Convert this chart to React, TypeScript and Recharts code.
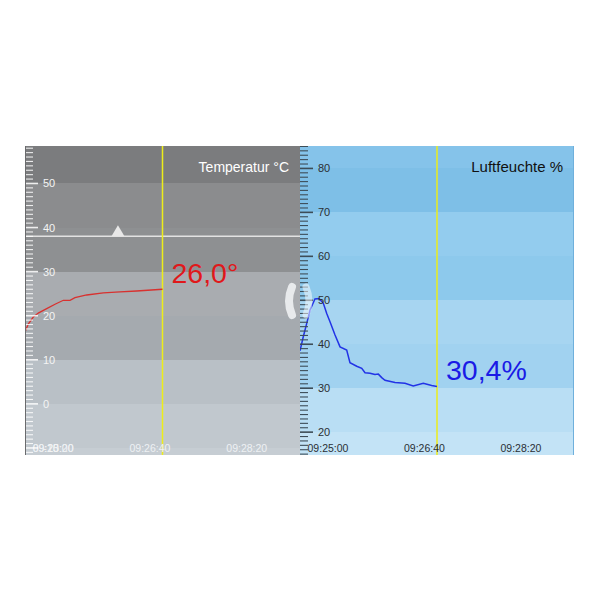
import React from 'react';
import { LineChart, Line, XAxis, YAxis, ReferenceArea, ReferenceLine, ReferenceDot } from 'recharts';

// time in seconds relative to 09:25:00
const tempTimes = [-29, -25.6, -20.4, -15.3, -6.6, 2, 10.6, 17.5, 22.6, 34.7, 51.9, 69.1, 86.3, 113];
const tempValues = [16.3, 18.1, 19.7, 20.6, 21.6, 22.6, 23.5, 23.5, 24.1, 24.7, 25.2, 25.4, 25.6, 26.0];

const humTimes = [-29, -25.6, -22.1, -18.6, -13.5, -9.3, -4.8, -1.3, 2.1, 7.3, 12.5, 19.4, 22.8, 29.8, 35, 38.4, 43.6, 48.7, 52.2, 55.7, 59.1, 69.5, 79.8, 88.4, 98.8, 107.5, 113];
const humValues = [38.5, 41.7, 44.7, 47.8, 50.3, 50.4, 49.3, 47.0, 45.1, 42.1, 39.4, 38.7, 35.8, 35.0, 34.5, 33.5, 33.4, 33.1, 33.2, 32.4, 31.8, 31.3, 31.1, 30.5, 31.1, 30.6, 30.4];

const timeTicks = [0, 100, 200];
const timeLabels = ['09:25:00', '09:26:40', '09:28:20'];
const hiddenLabel = '09:23:20'; // overlaps the first label on the left panel, as in the app
const nowTime = 113;

const tempAlarm = 38;
const tempAlarmMarkTime = 67;

const tempDomain = [-11.6, 58.5];
const humDomain = [14.8, 85.1];
const timeDomain = [-29, 255];

const tempBandStarts = [-20, -10, 0, 10, 20, 30, 40, 50];
const humBandStarts = [10, 20, 30, 40, 50, 60, 70, 80];

// styles
const tempBandColors = ['#c6cdd3', '#c1c8ce', '#b9c0c6', '#a5aaaf', '#a9acb0', '#8e9092', '#8b8c8e', '#7b7c7e'];
const humBandColors = ['#c3e3f6', '#b9def4', '#a1d2f0', '#a7d5f1', '#8dc9ec', '#93ccee', '#7ebfe7', '#85c3ea'];
const FONT = '"Liberation Sans", Arial, Helvetica, sans-serif';

const tempData = tempTimes.map((t, i) => ({ t, v: tempValues[i] }));
const humData = humTimes.map((t, i) => ({ t, v: humValues[i] }));

function range(lo: number, hi: number) {
  const out: number[] = [];
  for (let i = Math.ceil(lo); i <= Math.floor(hi); i++) out.push(i);
  return out;
}

const makeYTick = (tickColor: string, textColor: string) => (props: any) => {
  const { x, y, payload } = props;
  const major = payload.value % 10 === 0;
  return (
    <g>
      <line x1={x} x2={x + (major ? 13 : 8)} y1={y} y2={y} stroke={tickColor} strokeWidth={major ? 1.6 : 1.1} />
      {major && (
        <text x={x + 18} y={y} dy={4} fill={textColor} fontSize={11} fontFamily={FONT}>
          {payload.value}
        </text>
      )}
    </g>
  );
};

const makeXTick = (textColor: string, withHidden: boolean) => (props: any) => {
  const { x, y, payload } = props;
  const idx = timeTicks.indexOf(payload.value);
  return (
    <g>
      {withHidden && idx === 0 && (
        <text x={x} y={y - 3} textAnchor="middle" fill={textColor} fontSize={10.5} fontFamily={FONT}>
          {hiddenLabel}
        </text>
      )}
      <text x={x} y={y - 3} textAnchor="middle" fill={textColor} fontSize={10.5} fontFamily={FONT}>
        {timeLabels[idx]}
      </text>
    </g>
  );
};

const valueLabel = (text: string, color: string) => (props: any) => (
  <text x={props.cx + 9} y={props.cy - 6} fill={color} fontSize={28.5} fontFamily={FONT}>
    {text}
  </text>
);

const alarmMark = (props: any) => {
  const { cx, cy } = props;
  return <polygon points={`${cx - 6.5},${cy} ${cx + 6.5},${cy} ${cx},${cy - 11}`} fill="#e8e8e8" />;
};

export default function App() {
  const lastTemp = tempValues[tempValues.length - 1];
  const lastHum = humValues[humValues.length - 1];
  return (
    <div style={{ position: 'fixed', left: 0, top: 0, width: 600, height: 600, background: '#fff', overflow: 'hidden' }}>
      <div style={{ position: 'absolute', left: 25, top: 146, width: 275, height: 309, background: '#a0a3a6' }}>
        <LineChart width={275} height={309} data={tempData} margin={{ top: 0, right: 0, bottom: 0, left: 0 }}>
          {tempBandStarts.map((s, i) => (
            <ReferenceArea
              key={s}
              y1={s}
              y2={s + 10}
              fill={tempBandColors[i]}
              fillOpacity={1}
              stroke="none"
              shapeRendering="crispEdges"
              ifOverflow="hidden"
            />
          ))}
          <XAxis
            dataKey="t"
            type="number"
            domain={timeDomain}
            allowDataOverflow
            ticks={timeTicks}
            interval={0}
            mirror
            axisLine={false}
            tickLine={false}
            tickSize={0}
            tickMargin={0}
            tick={makeXTick('#eef1f4', true)}
          />
          <YAxis
            type="number"
            domain={tempDomain}
            allowDataOverflow
            ticks={range(tempDomain[0], tempDomain[1])}
            interval={0}
            mirror
            axisLine={false}
            tickLine={false}
            tickSize={0}
            tickMargin={0}
            tick={makeYTick('rgba(255,255,255,0.85)', '#f4f4f4')}
          />
          <ReferenceLine y={tempAlarm} stroke="#e2e2e2" strokeWidth={1.5} />
          <ReferenceDot x={tempAlarmMarkTime} y={tempAlarm} r={1} shape={alarmMark} />
          <ReferenceLine x={nowTime} stroke="#eded1a" strokeWidth={1.5} />
          <Line dataKey="v" type="linear" stroke="#d8312f" strokeWidth={1.3} dot={false} isAnimationActive={false} />
          <ReferenceDot
            x={nowTime}
            y={lastTemp}
            r={1}
            shape={valueLabel(lastTemp.toFixed(1).replace('.', ',') + '°', '#e0181b')}
          />
        </LineChart>
      </div>
      <div style={{ position: 'absolute', left: 300, top: 146, width: 274, height: 309, background: '#a5d4f0' }}>
        <LineChart width={274} height={309} data={humData} margin={{ top: 0, right: 0, bottom: 0, left: 0 }}>
          {humBandStarts.map((s, i) => (
            <ReferenceArea
              key={s}
              y1={s}
              y2={s + 10}
              fill={humBandColors[i]}
              fillOpacity={1}
              stroke="none"
              shapeRendering="crispEdges"
              ifOverflow="hidden"
            />
          ))}
          <XAxis
            dataKey="t"
            type="number"
            domain={timeDomain}
            allowDataOverflow
            ticks={timeTicks}
            interval={0}
            mirror
            axisLine={false}
            tickLine={false}
            tickSize={0}
            tickMargin={0}
            tick={makeXTick('#2a2f35', false)}
          />
          <YAxis
            type="number"
            domain={humDomain}
            allowDataOverflow
            ticks={range(humDomain[0], humDomain[1])}
            interval={0}
            mirror
            axisLine={false}
            tickLine={false}
            tickSize={0}
            tickMargin={0}
            tick={makeYTick('#3d4d58', '#2b2f33')}
          />
          <ReferenceLine x={nowTime} stroke="#eded1a" strokeWidth={1.5} />
          <Line dataKey="v" type="linear" stroke="#2233e6" strokeWidth={1.5} dot={false} isAnimationActive={false} />
          <ReferenceDot
            x={nowTime}
            y={lastHum}
            r={1}
            shape={valueLabel(lastHum.toFixed(1).replace('.', ',') + '%', '#1a1ae6')}
          />
        </LineChart>
      </div>
      <svg width={600} height={600} style={{ position: 'absolute', left: 0, top: 0, pointerEvents: 'none' }}>
        <line x1={25.5} x2={25.5} y1={146} y2={455} stroke="#6a6b6d" strokeWidth={1} />
        <line x1={573.5} x2={573.5} y1={146} y2={455} stroke="#6fb0dc" strokeWidth={1} />
        <text x={289} y={172} textAnchor="end" fill="#ffffff" fontSize={14} fontFamily={FONT}>
          Temperatur °C
        </text>
        <text x={563} y={172} textAnchor="end" fill="#111111" fontSize={15} fontFamily={FONT}>
          Luftfeuchte %
        </text>
        <path d="M 292 287 Q 286 301 292 315" stroke="#e8eaec" strokeWidth={8} strokeLinecap="round" fill="none" />
        <path
          d="M 306 287 Q 312 301 306 315"
          stroke="#ffffff"
          strokeOpacity={0.5}
          strokeWidth={7}
          strokeLinecap="round"
          fill="none"
        />
      </svg>
    </div>
  );
}
